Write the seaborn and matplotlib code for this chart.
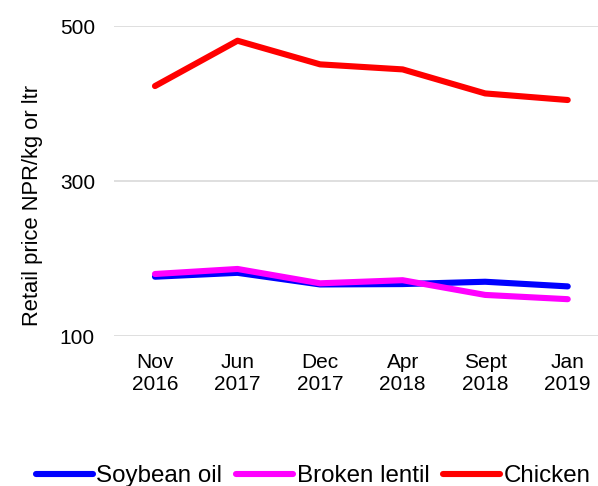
import matplotlib
matplotlib.use("Agg")
import matplotlib.pyplot as plt
import seaborn as sns
import pandas as pd

categories = ["Nov\n2016", "Jun\n2017", "Dec\n2017", "Apr\n2018", "Sept\n2018", "Jan\n2019"]
soybean_oil = [176.5, 181.5, 166.5, 167, 170, 164]
broken_lentil = [180, 186.5, 168, 172, 153, 147.5]
chicken = [422.5, 481, 450.5, 444, 413, 404.5]
series_names = ["Soybean oil", "Broken lentil", "Chicken"]
colors = ["#0000ff", "#ff00ff", "#ff0000"]
y_ticks = [100, 300, 500]

rows = []
for name, vals in zip(series_names, [soybean_oil, broken_lentil, chicken]):
    for i, v in enumerate(vals):
        rows.append({"idx": i, "value": v, "series": name})
df = pd.DataFrame(rows)

sns.set_style("white")
plt.rcParams["font.family"] = ["Liberation Sans", "DejaVu Sans"]
plt.rcParams["text.color"] = "black"
plt.rcParams["xtick.color"] = "black"
plt.rcParams["ytick.color"] = "black"

fig = plt.figure(figsize=(5.98, 4.86), dpi=100)
ax = fig.add_axes([113.7 / 598, 1 - 336 / 486, (609 - 113.7) / 598, (336 - 26) / 486])

sns.lineplot(data=df, x="idx", y="value", hue="series", hue_order=series_names,
             palette=colors, linewidth=4.4, ax=ax, legend=False,
             solid_capstyle="round", solid_joinstyle="round", zorder=3)

ax.set_xlim(-0.5, 5.5)
ax.set_ylim(100, 500)
ax.set_yticks(y_ticks)
ax.set_xticks(range(len(categories)))
ax.set_xticklabels(categories, fontsize=15, linespacing=1.22, color="black")
ax.tick_params(axis="y", labelsize=15, length=0, pad=13.5, labelcolor="black")
ax.tick_params(axis="x", length=0, pad=12, labelcolor="black")
ax.set_xlabel("")
ax.set_ylabel("")
for s in ax.spines.values():
    s.set_visible(False)
ax.grid(axis="y", color="#d9d9d9", linewidth=1.2, zorder=0)
ax.grid(axis="x", visible=False)

fig.text(33 / 598, 1 - 205 / 486, "Retail price NPR/kg or ltr", rotation=90,
         ha="center", va="center", fontsize=15.8, color="black")

handles = [plt.Line2D([], [], color=c, linewidth=4.4, solid_capstyle="round") for c in colors]
fig.legend(handles, series_names, loc="center", bbox_to_anchor=(0.524, 1 - 476 / 486),
           ncol=3, frameon=False, fontsize=17.4, handlelength=2.35,
           handletextpad=0.15, columnspacing=0.58, borderaxespad=0, borderpad=0,
           labelcolor="black")

fig.savefig("out.png", dpi=100)
